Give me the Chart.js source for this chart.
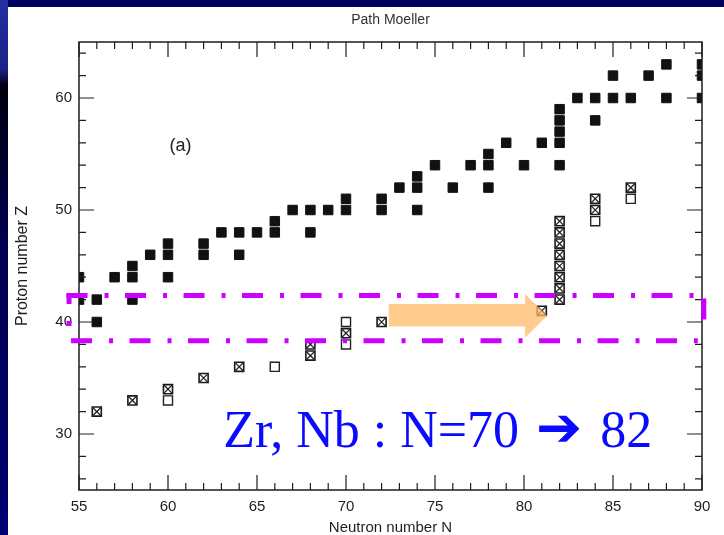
<!DOCTYPE html>
<html>
<head>
<meta charset="utf-8">
<script src="https://cdn.jsdelivr.net/npm/chart.js@4.4.1/dist/chart.umd.min.js"></script>
<style>
  html, body { margin: 0; padding: 0; background: #fff; }
  canvas { display: block; }
</style>
</head>
<body>
<canvas id="chart" width="724" height="535"></canvas>
<script>
// r-process path (Moeller masses) in the N-Z plane
const xTickLabels = [55, 60, 65, 70, 75, 80, 85, 90];
const yTickLabels = [30, 40, 50, 60];

// filled squares: path nuclei
const pathN = [55, 55, 56, 56, 57, 58, 58, 58, 59, 60, 60, 60, 62, 62, 63, 64, 64, 65, 66, 66,
               67, 68, 68, 69, 70, 70, 72, 72, 73, 74, 74, 74, 75, 76, 77, 78, 78, 78, 79, 80,
               81, 82, 82, 82, 82, 82, 83, 84, 84, 85, 85, 86, 87, 88, 88, 90, 90, 90];
const pathZ = [44, 42, 42, 40, 44, 45, 44, 42, 46, 47, 46, 44, 47, 46, 48, 48, 46, 48, 49, 48,
               50, 50, 48, 50, 51, 50, 51, 50, 52, 53, 52, 50, 54, 52, 54, 55, 54, 52, 56, 54,
               56, 59, 58, 57, 56, 54, 60, 60, 58, 62, 60, 60, 62, 63, 60, 63, 62, 60];

// crossed squares
const crossN = [56, 58, 60, 62, 64, 68, 68, 70, 72, 81, 82, 82, 82, 82, 82, 82, 82, 82, 84, 84, 86];
const crossZ = [32, 33, 34, 35, 36, 38, 37, 39, 40, 41, 42, 43, 44, 45, 46, 47, 48, 49, 51, 50, 52];

// open squares
const openN = [60, 66, 70, 70, 84, 86];
const openZ = [33, 36, 40, 38, 49, 51];

const toPoints = (ns, zs) => ns.map((n, i) => ({ x: n, y: zs[i] }));

const FONT = "'Liberation Sans', Arial, sans-serif";
const INK = '#1e1e1e';

// slide background, inward ticks, frame and the slide annotations
const slidePlugin = {
    id: 'slide',
    beforeDraw(chart) {
        const ctx = chart.ctx;
        ctx.save();
        const g = ctx.createLinearGradient(0, 0, 0, chart.height);
        g.addColorStop(0, '#2430a0');
        g.addColorStop(0.13, '#1a2288');
        g.addColorStop(0.16, '#00000e');
        g.addColorStop(0.45, '#000050');
        g.addColorStop(1, '#000070');
        ctx.fillStyle = g;
        ctx.fillRect(0, 0, 8, chart.height);
        ctx.fillStyle = '#00005e';
        ctx.fillRect(8, 0, chart.width - 8, 7);
        ctx.restore();
    },
    afterDatasetsDraw(chart) {
        const { ctx, chartArea: a, scales: { x, y } } = chart;
        ctx.save();

        // frame
        ctx.strokeStyle = INK;
        ctx.lineWidth = 1.5;
        ctx.strokeRect(a.left, a.top, a.right - a.left, a.bottom - a.top);

        // inward ticks on all four sides
        ctx.lineWidth = 1.2;
        ctx.beginPath();
        for (let n = x.min; n <= x.max; n++) {
            const len = n % 5 === 0 ? 15 : 7;
            const px = x.getPixelForValue(n);
            ctx.moveTo(px, a.bottom); ctx.lineTo(px, a.bottom - len);
            ctx.moveTo(px, a.top); ctx.lineTo(px, a.top + len);
        }
        for (let z = Math.ceil(y.min); z <= y.max; z++) {
            if (z % 2 !== 0) continue;
            const len = z % 10 === 0 ? 15 : 7;
            const py = y.getPixelForValue(z);
            ctx.moveTo(a.left, py); ctx.lineTo(a.left + len, py);
            ctx.moveTo(a.right, py); ctx.lineTo(a.right - len, py);
        }
        ctx.stroke();

        // panel label
        ctx.fillStyle = '#222';
        ctx.font = '18px ' + FONT;
        ctx.textAlign = 'center';
        ctx.textBaseline = 'middle';
        ctx.fillText('(a)', x.getPixelForValue(60.7), y.getPixelForValue(55.7));

        // orange arrow N=72 -> 81
        const arrow = [[72.4, 41.6], [80.06, 41.6], [80.06, 42.5], [81.3, 40.55],
                       [80.06, 38.6], [80.06, 39.6], [72.4, 39.6]];
        ctx.fillStyle = 'rgba(255, 186, 105, 0.75)';
        ctx.beginPath();
        arrow.forEach(([n, z], i) => {
            const px = x.getPixelForValue(n), py = y.getPixelForValue(z);
            if (i === 0) ctx.moveTo(px, py); else ctx.lineTo(px, py);
        });
        ctx.closePath();
        ctx.fill();

        // blue caption
        ctx.fillStyle = '#0a0aff';
        ctx.textAlign = 'left';
        ctx.textBaseline = 'alphabetic';
        let tx = x.getPixelForValue(63.1);
        const ty = y.getPixelForValue(28.8);
        ctx.font = "52px 'Liberation Serif', 'Times New Roman', serif";
        const part1 = 'Zr, Nb : N=70';
        ctx.fillText(part1, tx, ty);
        tx += ctx.measureText(part1).width + 17;
        ctx.font = "55px 'DejaVu Sans', sans-serif";
        ctx.fillText('\u2794', tx, ty - 1);
        tx += ctx.measureText('\u2794').width + 18;
        ctx.font = "52px 'Liberation Serif', 'Times New Roman', serif";
        ctx.fillText('82', tx, ty);

        // magenta dash-dot box around Z = 40
        const l = x.getPixelForValue(54.44), r = x.getPixelForValue(90.1);
        const t = y.getPixelForValue(42.37), b = y.getPixelForValue(38.33);
        ctx.strokeStyle = '#cc00ff';
        ctx.lineWidth = 5;
        ctx.lineCap = 'butt';
        ctx.setLineDash([21, 17, 4, 16.5]);
        ctx.beginPath();
        ctx.moveTo(l - 2.5, t); ctx.lineTo(r - 6, t);
        ctx.moveTo(l + 2, b); ctx.lineTo(r - 6, b);
        ctx.stroke();
        ctx.setLineDash([11, 17, 5, 200]);
        ctx.beginPath();
        ctx.moveTo(l, t - 2.5); ctx.lineTo(l, b);
        ctx.stroke();
        ctx.setLineDash([21, 60]);
        ctx.lineDashOffset = -3;
        ctx.beginPath();
        ctx.moveTo(r, t); ctx.lineTo(r, b);
        ctx.stroke();

        ctx.restore();
    }
};

// datasets are painted from the last index to the first,
// so the X marks sit before the white boxes they belong in
new Chart(document.getElementById('chart'), {
    type: 'scatter',
    data: {
        datasets: [{
            label: 'path',
            data: toPoints(pathN, pathZ),
            pointStyle: 'rect',
            pointRadius: 6.7,
            backgroundColor: '#111',
            borderColor: '#111',
            borderWidth: 1,
            clip: 0
        }, {
            label: 'crossed-x',
            data: toPoints(crossN, crossZ),
            pointStyle: 'crossRot',
            pointRadius: 5.5,
            backgroundColor: '#222',
            borderColor: '#222',
            borderWidth: 1.3,
            clip: 0
        }, {
            label: 'crossed',
            data: toPoints(crossN, crossZ),
            pointStyle: 'rect',
            pointRadius: 6.4,
            backgroundColor: '#fff',
            borderColor: '#1a1a1a',
            borderWidth: 1.6,
            clip: 0
        }, {
            label: 'open',
            data: toPoints(openN, openZ),
            pointStyle: 'rect',
            pointRadius: 6.4,
            backgroundColor: '#fff',
            borderColor: '#222',
            borderWidth: 1.4,
            clip: 0
        }]
    },
    options: {
        responsive: false,
        animation: false,
        events: [],
        layout: { padding: { top: 7, right: 22, left: 0, bottom: 0 } },
        plugins: {
            legend: { display: false },
            tooltip: { enabled: false },
            title: {
                display: true,
                text: 'Path Moeller',
                fullSize: false,
                color: '#333',
                font: { family: FONT, size: 14, weight: 'normal', lineHeight: 1.2 },
                padding: { top: 5, bottom: 13.2 }
            }
        },
        scales: {
            x: {
                type: 'linear',
                min: 55,
                max: 90,
                grid: { display: false, drawTicks: false },
                border: { display: false },
                ticks: {
                    stepSize: 5,
                    autoSkip: false,
                    maxRotation: 0,
                    padding: 8,
                    color: INK,
                    font: { family: FONT, size: 15, lineHeight: 1.2 },
                    callback: v => xTickLabels.includes(v) ? String(v) : ''
                },
                title: {
                    display: true,
                    text: 'Neutron number N',
                    color: INK,
                    font: { family: FONT, size: 15, lineHeight: 1 },
                    padding: { top: 0, bottom: 0 }
                },
                afterFit(scale) { scale.height = 45; }
            },
            y: {
                type: 'linear',
                min: 25,
                max: 65,
                grid: { display: false, drawTicks: false },
                border: { display: false },
                ticks: {
                    stepSize: 5,
                    autoSkip: false,
                    padding: 7,
                    color: INK,
                    font: { family: FONT, size: 15, lineHeight: 1.2 },
                    callback: v => yTickLabels.includes(v) ? String(v) : ''
                },
                title: {
                    display: true,
                    text: 'Proton number Z',
                    color: INK,
                    font: { family: FONT, size: 16, lineHeight: 1 },
                    padding: { top: 15, bottom: 0 }
                },
                afterFit(scale) { scale.width = 79; }
            }
        }
    },
    plugins: [slidePlugin]
});
</script>
</body>
</html>
